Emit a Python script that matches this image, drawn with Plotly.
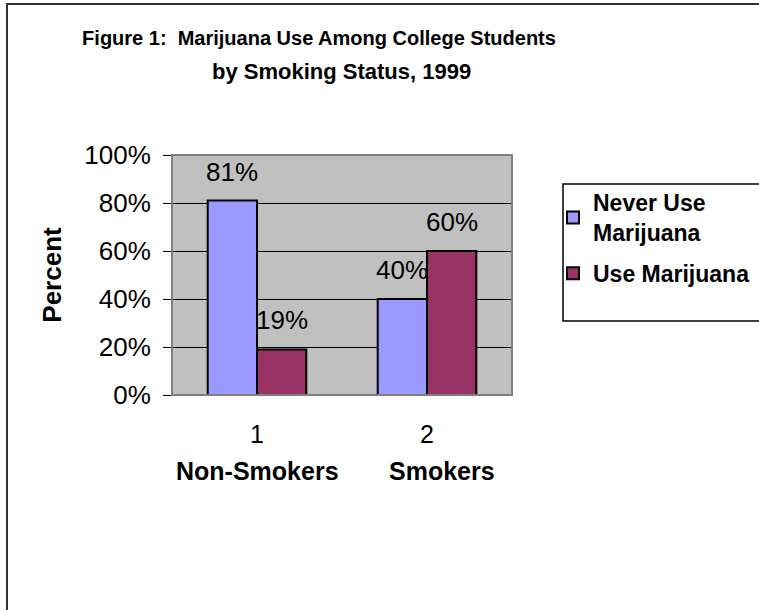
import plotly.graph_objects as go

categories = ["1", "2"]
category_names = ["Non-Smokers", "Smokers"]
never_use = [0.81, 0.40]
use = [0.19, 0.60]
series_names = ["Never Use<br>Marijuana", "Use Marijuana"]
series_colors = ["#9999FF", "#993366"]
y_ticks = [0, 0.2, 0.4, 0.6, 0.8, 1.0]

W, H = 759, 610
L, R, T, B = 172, 247, 155, 215
pw, ph = W - L - R, H - T - B

FONT = "Liberation Sans, Arial, sans-serif"

fig = go.Figure()
for i, (name, vals, col) in enumerate(zip(series_names, [never_use, use], series_colors)):
    fig.add_trace(go.Bar(
        x=categories, y=vals, name=f"<b>{name}</b>", legendgroup=f"g{i}",
        marker=dict(color=col, line=dict(color="black", width=2)),
    ))

annotations = []
# data labels
bar_half = pw / len(categories) * (1 - 0.42) / 4
for si, vals in enumerate([never_use, use]):
    shift = -bar_half if si == 0 else bar_half
    for ci, v in enumerate(vals):
        annotations.append(dict(
            x=ci, y=v, xref="x", yref="y", text=f"{round(v*100)}%",
            showarrow=False, xshift=shift, yshift=29,
            font=dict(family=FONT, size=26, color="black"),
        ))
# category names (second row under the tick numbers)
for ci, n in enumerate(category_names):
    annotations.append(dict(
        x=ci, y=0, xref="x", yref="paper", text=f"<b>{n}</b>",
        showarrow=False, yanchor="middle", yshift=-76,
        xshift=0 if ci == 0 else 15,
        font=dict(family=FONT, size=25, color="black"),
    ))
# title second line
annotations.append(dict(
    x=(341 - L) / pw, y=(H - B - 72) / ph, xref="paper", yref="paper",
    xanchor="center", yanchor="middle", showarrow=False,
    text="<b>by Smoking Status, 1999</b>",
    font=dict(family=FONT, size=22, color="black"),
))

shapes = [
    # plot area border
    dict(type="rect", xref="paper", yref="paper", x0=0, x1=1, y0=0, y1=1,
         line=dict(color="#808080", width=2), layer="above"),
    # legend box
    dict(type="rect", xref="paper", yref="paper",
         x0=(563 - L) / pw, x1=(780 - L) / pw,
         y0=(H - B - 321) / ph, y1=(H - B - 184) / ph,
         line=dict(color="black", width=1.5), fillcolor="rgba(0,0,0,0)"),
    # outer chart border
    dict(type="rect", xref="paper", yref="paper",
         x0=(7 - L) / pw, x1=(800 - L) / pw,
         y0=(H - B - 640) / ph, y1=(H - B - 4) / ph,
         line=dict(color="#333333", width=2), fillcolor="rgba(0,0,0,0)"),
]

fig.update_layout(
    width=W, height=H,
    margin=dict(l=L, r=R, t=T, b=B, autoexpand=False),
    paper_bgcolor="white", plot_bgcolor="#C0C0C0",
    barmode="group", bargap=0.42, bargroupgap=0,
    font=dict(family=FONT, color="black"),
    title=dict(
        text="<b>Figure 1:  Marijuana Use Among College Students</b>",
        x=319 / W, xanchor="center", xref="container",
        y=1 - 38 / H, yanchor="middle", yref="container",
        font=dict(family=FONT, size=20, color="black"),
    ),
    xaxis=dict(
        type="category",
        showgrid=False, showline=False, ticks="",
        tickfont=dict(family=FONT, size=25, color="black"),
        ticklabelstandoff=22,
    ),
    yaxis=dict(
        range=[0, 1], tickvals=y_ticks, tickformat=".0%",
        showgrid=True, gridcolor="black", gridwidth=1,
        zeroline=False, showline=False,
        ticks="outside", ticklen=8, tickcolor="black", tickwidth=1,
        tickfont=dict(family=FONT, size=26, color="black"),
        ticklabelstandoff=7,
        title=dict(text="<b>Percent</b>", standoff=15,
                   font=dict(family=FONT, size=26, color="black")),
    ),
    legend=dict(
        x=(553 - L) / pw, xanchor="left",
        y=(H - B - 181) / ph, yanchor="top",
        bgcolor="rgba(0,0,0,0)", borderwidth=0,
        font=dict(family=FONT, size=23, color="black"),
        tracegroupgap=8, itemwidth=30,
    ),
    annotations=annotations,
    shapes=shapes,
)

fig.write_html("out.html")
